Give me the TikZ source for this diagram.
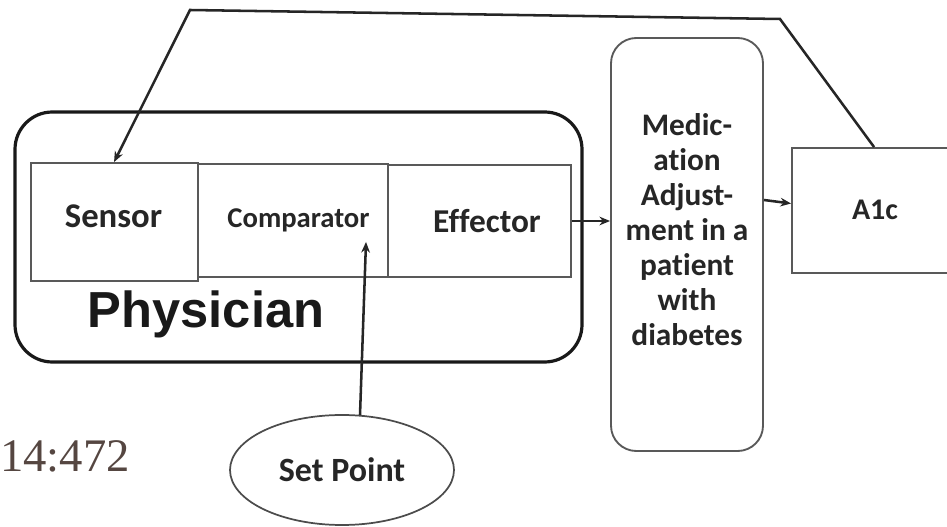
\documentclass[tikz,border=0pt]{standalone}
\usepackage{fontspec}
\setmainfont{Carlito}[Ligatures={NoCommon}]
\newfontfamily\arialfont{Liberation Sans}
\newfontfamily\timesfont{Liberation Serif}
\usetikzlibrary{shapes.geometric,fit,arrows.meta,calc}
\definecolor{codecol}{RGB}{85,70,65}
\begin{document}
\begin{tikzpicture}[x=0.75pt,y=-0.75pt,
  box/.style={draw=black!65,line width=1.4pt,inner sep=0pt},
  conn/.style={draw=black!85,line width=1.9pt},
  arr/.style={conn,-{Stealth[length=8pt,width=6.5pt]}},
  lbl/.style={anchor=base,text=black!85,font=\bfseries\fontsize{#1}{#1}\selectfont,inner sep=0pt}
]
\useasboundingbox (0,0) rectangle (947,527);

% Physician frame
\node[fit={(15,112) (582,362)}, draw=black!90, line width=2.4pt, rounded corners=28pt, inner sep=0pt] (physician) {};

% boxes
\node[box, fit={(31,163) (198,281)}] (sensor) {};
\node[box, fit={(198,164) (388,277)}] (comparator) {};
\node[box, fit={(388,165) (571,277)}] (effector) {};
\node[box, fit={(611,38) (763,451)}, rounded corners=19pt] (medication) {};
\node[box, fit={(792,148) (960,273)}] (a1c) {};

% texts
\node[lbl=26] (sensortext) at (113.5,228) {Sensor};
\node[lbl=21.5] (comptext) at (298.5,228) {Comparator};
\node[lbl=25] (efftext) at (487,233) {Effector};
\node[anchor=base, text=black!90, font=\arialfont\bfseries\fontsize{38}{40}\selectfont, inner sep=0pt] (phystext) at (206,328) {Physician};
\node[text=black!85, font=\bfseries\fontsize{23.5}{26.25}\selectfont, align=center, inner sep=0pt] (medtext) at (687,230) {Medic-\\ation\\Adjust-\\ment in a\\patient\\with\\diabetes};
\node[lbl=22.5] (a1ctext) at (875,220) {A1c};
\node[draw=black!70, line width=1.3pt, ellipse, minimum width=224*0.75pt, minimum height=110*0.75pt, inner sep=0pt, text=black!85, font=\bfseries\fontsize{25.5}{26}\selectfont] (setpoint) at (342,470) {Set Point};
\node[anchor=base, text=codecol, font=\timesfont\fontsize{35}{36}\selectfont, inner sep=0pt] (code) at (65,472) {14:472};

% connectors
\draw[arr] (effector.east) -- (effector.east -| medication.west);
\draw[arr] ($(medication.east)+(0,-44.5)$) -- ($(a1c.west)+(0,-7)$);
\coordinate (fb1) at (780,19);
\coordinate (fb2) at (190,10);
\draw[arr] ($(a1c.north west)+(83,0)$) -- (fb1) -- (fb2) -- ($(sensor.north west)+(84,0)$);
\draw[arr] ($(setpoint.north)+(18,1)$) -- ($(comparator.south)+(73,-36)$);
\end{tikzpicture}
\end{document}
